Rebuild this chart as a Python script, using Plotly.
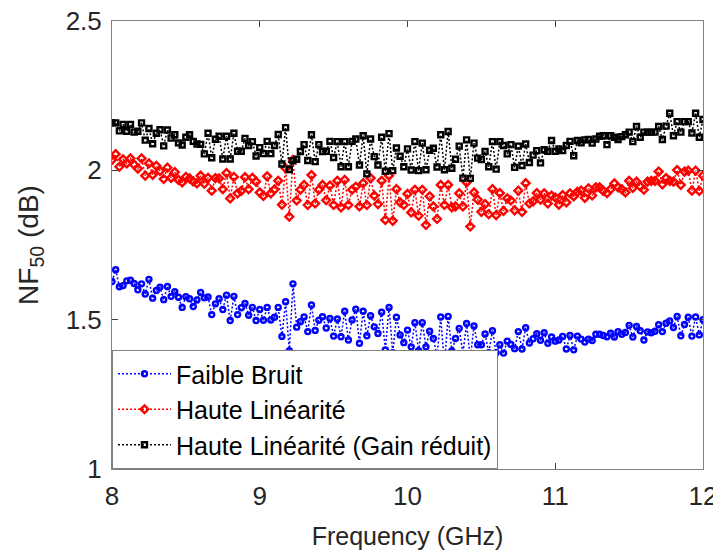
import plotly.graph_objects as go

# Frequency grid (GHz): 8 to 12 in 0.025 GHz steps
f_start = 8.0
f_step = 0.025

faible_bruit = [
    1.628,1.667,1.610,1.614,1.630,1.632,1.621,1.600,1.620,1.586,1.635,1.572,1.598,1.609,1.567,1.611,1.578,1.594,
    1.575,1.541,1.577,1.570,1.544,1.566,1.591,1.573,1.576,1.517,1.553,1.570,1.534,1.582,1.497,1.578,1.517,1.540,
    1.554,1.515,1.541,1.497,1.534,1.498,1.541,1.499,1.508,1.541,1.444,1.560,1.396,1.620,1.475,1.493,1.509,1.460,
    1.549,1.464,1.498,1.510,1.472,1.504,1.445,1.502,1.443,1.528,1.432,1.499,1.535,1.421,1.528,1.446,1.513,1.476,
    1.454,1.525,1.399,1.541,1.389,1.508,1.449,1.423,1.465,1.409,1.490,1.396,1.490,1.409,1.461,1.437,1.378,1.509,
    1.350,1.511,1.395,1.437,1.471,1.387,1.487,1.368,1.479,1.416,1.416,1.452,1.389,1.463,1.389,1.416,1.388,1.428,
    1.417,1.403,1.460,1.402,1.473,1.422,1.436,1.453,1.431,1.456,1.421,1.442,1.428,1.432,1.444,1.402,1.447,1.399,
    1.445,1.435,1.425,1.435,1.430,1.451,1.451,1.447,1.443,1.455,1.442,1.460,1.451,1.457,1.481,1.442,1.477,1.463,
    1.432,1.459,1.456,1.461,1.483,1.460,1.488,1.496,1.474,1.511,1.446,1.484,1.508,1.445,1.509,1.449,1.500,
]

haute_lin = [
    2.035,2.054,2.012,2.037,2.023,2.040,2.019,2.006,2.040,1.982,2.023,1.985,2.015,1.998,1.971,2.009,1.975,1.994,
    1.968,1.960,1.978,1.973,1.963,1.956,1.982,1.955,1.975,1.932,1.974,1.973,1.937,1.991,1.906,1.978,1.923,1.931,
    1.977,1.937,1.975,1.962,1.926,1.914,1.980,1.923,1.936,1.965,1.885,2.007,1.845,2.035,1.899,1.935,1.951,1.884,
    1.984,1.889,1.935,1.951,1.900,1.949,1.884,1.965,1.876,1.968,1.884,1.935,1.945,1.879,1.957,1.884,1.974,1.915,
    1.887,1.965,1.834,1.982,1.831,1.937,1.893,1.884,1.921,1.859,1.935,1.848,1.935,1.817,1.913,1.879,1.837,1.951,
    1.884,1.951,1.876,1.879,1.923,1.879,1.960,1.812,1.926,1.902,1.861,1.887,1.853,1.937,1.850,1.924,1.864,1.906,
    1.899,1.866,1.932,1.861,1.957,1.889,1.896,1.924,1.902,1.923,1.889,1.915,1.909,1.885,1.917,1.893,1.923,1.913,
    1.928,1.932,1.908,1.940,1.916,1.943,1.943,1.931,1.924,1.937,1.956,1.943,1.937,1.926,1.965,1.941,1.962,1.946,
    1.935,1.962,1.965,1.965,1.996,1.953,1.974,1.965,1.962,2.001,1.951,1.996,1.999,1.932,1.999,1.931,1.982,
]

haute_lin_gr = [
    2.159,2.159,2.132,2.154,2.131,2.154,2.128,2.131,2.159,2.101,2.140,2.089,2.124,2.136,2.082,2.135,2.108,2.119,
    2.092,2.085,2.111,2.119,2.097,2.088,2.087,2.055,2.124,2.042,2.104,2.114,2.038,2.114,2.038,2.124,2.064,2.064,
    2.107,2.083,2.096,2.048,2.076,2.056,2.097,2.056,2.083,2.120,2.021,2.143,2.003,2.032,2.037,2.063,2.086,2.033,
    2.119,2.029,2.086,2.063,2.064,2.097,2.043,2.096,2.012,2.096,2.012,2.097,2.105,2.018,2.116,1.988,2.105,2.046,
    2.018,2.111,1.997,2.123,1.999,2.075,2.047,2.012,2.072,2.001,2.096,1.999,2.091,2.002,2.067,2.074,2.011,2.119,
    2.002,2.130,2.007,2.037,2.081,1.974,2.102,1.973,2.091,2.041,2.036,2.063,2.012,2.096,2.004,2.096,2.083,2.055,
    2.086,2.010,2.081,2.016,2.088,2.026,2.051,2.066,2.025,2.069,2.064,2.100,2.064,2.072,2.066,2.083,2.097,2.049,
    2.100,2.092,2.102,2.103,2.091,2.105,2.114,2.116,2.086,2.116,2.111,2.103,2.113,2.119,2.128,2.096,2.147,2.111,
    2.128,2.128,2.128,2.128,2.147,2.103,2.148,2.191,2.116,2.163,2.128,2.163,2.163,2.125,2.191,2.111,2.170,
]

series_names = ["Faible Bruit", "Haute Linéarité", "Haute Linéarité (Gain réduit)"]
x_ticks = [8, 9, 10, 11, 12]
y_ticks = [1, 1.5, 2, 2.5]

def freqs(n):
    return [f_start + f_step * i for i in range(n)]

styles = [
    ("blue", "circle-open", 5),
    ("red", "diamond-open", 6),
    ("black", "square-open", 5),
]

fig = go.Figure()
for name, vals, (col, sym, sz) in zip(series_names, [faible_bruit, haute_lin, haute_lin_gr], styles):
    fig.add_trace(go.Scatter(
        x=freqs(len(vals)), y=vals, name=name, mode="lines+markers",
        line=dict(color=col, width=1.5, dash="2px,2px"),
        marker=dict(symbol=sym, size=sz, color=col, line=dict(color=col, width=2.4)),
    ))

FONT = "Liberation Sans, Arial"
axis_common = dict(
    showline=True, linecolor="#808080", linewidth=1, mirror="ticks",
    ticks="inside", ticklen=6, tickcolor="#404040", showgrid=False, zeroline=False,
    automargin=False, ticklabeloverflow="allow",
    tickfont=dict(family=FONT, size=26, color="#262626"),
)

# The page body has an 8px margin, so the figure is sized to fit inside the window
fig.update_layout(
    width=713, height=547,
    margin=dict(l=104, r=18, t=13, b=86),
    paper_bgcolor="white", plot_bgcolor="white",
    font=dict(family=FONT, color="#262626"),
    xaxis=dict(range=[8, 12], tickvals=x_ticks, ticktext=[str(t) for t in x_ticks],
               ticklabelstandoff=4,
               title=dict(text="Frequency (GHz)", font=dict(size=25), standoff=17), **axis_common),
    yaxis=dict(range=[1, 2.5], tickvals=y_ticks, ticktext=["1", "1.5", "2", "2.5"],
               ticklabelstandoff=4,
               title=dict(text="NF<sub>50</sub> (dB)", font=dict(size=28), standoff=18), **axis_common),
    legend=dict(x=0, y=0, xanchor="left", yanchor="bottom",
                bgcolor="white", bordercolor="#808080", borderwidth=1,
                font=dict(family=FONT, size=25, color="black"), tracegroupgap=0,
                itemwidth=53),
    showlegend=True,
)

fig.write_html("out.html")
